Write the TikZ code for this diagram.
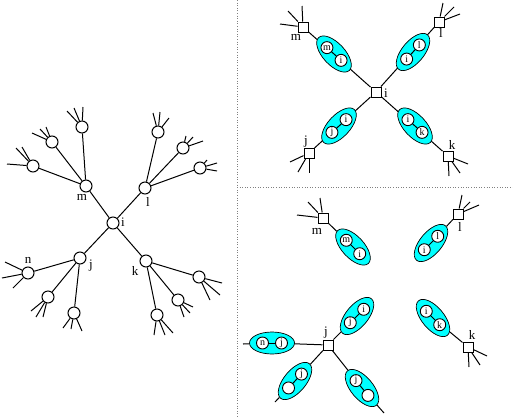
\documentclass[tikz,border=0pt]{standalone}
\usepackage{fontspec}
\setmainfont{Liberation Serif}
\usetikzlibrary{shapes.geometric,calc}
\definecolor{aqua}{RGB}{0,255,255}
\tikzset{
 vtx/.style={circle,draw,line width=1pt,fill=white,minimum size=12pt,inner sep=0pt},
 sq/.style={rectangle,draw,line width=1pt,fill=white,minimum size=10pt,inner sep=0pt},
 ell/.style={ellipse,draw,line width=0.7pt,fill=aqua,minimum width=45pt,minimum height=22pt,inner sep=0pt},
 sm/.style={circle,draw,line width=0.9pt,fill=white,minimum size=12pt,inner sep=0pt,font=\fontsize{10}{10}\selectfont},
 lab/.style={font=\fontsize{13}{13}\selectfont,inner sep=0pt},
 edge/.style={line width=1pt},
 sep/.style={dotted,gray,line width=0.6pt}
}
\newcommand\pairel[6]{%
 \node[ell,rotate=#3] (#1) at (#2) {};
 \node[sm] (#1a) at ($(#1)+(#4:9.5pt)$) {#5};
 \node[sm] (#1b) at ($(#1)-(#4:9.5pt)$) {#6};
 \draw[edge] (#1a) -- (#1b);
}
\newcommand\fan[2]{\foreach \p in {#2} \draw[edge] (#1) -- \p;}
\begin{document}
\begin{tikzpicture}[x=1pt,y=-1pt]
\useasboundingbox (0,0) rectangle (513,418);
% separators
\draw[sep] (237,0) -- (237,418);
\draw[sep] (237,187) -- (513,187);

% ---------- left tree ----------
\node[vtx] (i) at (113,223) {};
\node[vtx] (m) at (86,186) {};
\node[vtx] (l) at (145,188) {};
\node[vtx] (j) at (80,258) {};
\node[vtx] (k) at (146,261) {};
\node[vtx] (mA) at (82,127) {};
\node[vtx] (mB) at (52,142) {};
\node[vtx] (mC) at (33,166) {};
\node[vtx] (lD) at (158,132) {};
\node[vtx] (lE) at (183,148) {};
\node[vtx] (lF) at (200,168) {};
\node[vtx] (n) at (28,273) {};
\node[vtx] (jG) at (48,297) {};
\node[vtx] (jH) at (74,313) {};
\node[vtx] (kI) at (199,277) {};
\node[vtx] (kJ) at (178,300) {};
\node[vtx] (kK) at (157,315) {};
\foreach \a/\b in {i/m,i/l,i/j,i/k,m/mA,m/mB,m/mC,l/lD,l/lE,l/lF,j/n,j/jG,j/jH,k/kI,k/kJ,k/kK}
  \draw[edge] (\a) -- (\b);
\fan{mA}{(67,111),(74,108),(83,107)}
\fan{mB}{(32,133),(40,129),(46,127)}
\fan{mC}{(7,164),(16,148),(22,147)}
\fan{lD}{(153,113),(160,112),(169,118)}
\fan{lE}{(186,136),(193,137),(203,141)}
\fan{lF}{(207,160),(217,163),(217,171)}
\fan{n}{(5,262),(2,278),(13,288)}
\fan{jG}{(31,311),(36,317),(43,317)}
\fan{jH}{(63,328),(71,329),(82,331)}
\fan{kI}{(222,283),(220,295),(210,300)}
\fan{kJ}{(193,307),(190,313),(184,317)}
\fan{kK}{(173,333),(165,335),(154,335)}
\node[lab] (Li) at (123,222) {i};
\node[lab] (Lm) at (82,197) {m};
\node[lab] (Ll) at (148,202) {l};
\node[lab] (Lj) at (91,266) {j};
\node[lab] (Lk) at (135,271) {k};
\node[lab] (Ln) at (28,260) {n};

% ---------- top right ----------
\node[sq] (ti) at (376,92) {};
\node[sq] (tm) at (303,27) {};
\node[sq] (tl) at (439,22) {};
\node[sq] (tj) at (309,153) {};
\node[sq] (tk) at (448,156) {};
\foreach \b in {tm,tl,tj,tk} \draw[edge] (ti) -- (\b);
\fan{tm}{(280,24),(288,11),(302,6)}
\fan{tl}{(443,3),(454,7),(460,14)}
\fan{tj}{(290,162),(298,172),(309,173)}
\fan{tk}{(468,164),(460,173),(449,176)}
\pairel{e1}{334,54}{133}{138}{m}{i}
\pairel{e2}{413,52}{50}{48}{l}{i}
\pairel{e3}{339,126}{47}{42}{i}{j}
\pairel{e4}{415,126}{133}{138}{i}{k}
\node[lab] (Ti) at (386,93) {i};
\node[lab] (Tm) at (296,37) {m};
\node[lab] (Tl) at (441,33) {l};
\node[lab] (Tj) at (306,142) {j};
\node[lab] (Tk) at (452,145) {k};

% ---------- bottom right ----------
\node[sq] (bm) at (323,218) {};
\node[sq] (bl) at (458,214) {};
\node[sq] (bk) at (468,347) {};
\node[sq] (bj) at (328,345) {};
\fan{bm}{(297,215),(308,202),(320,198)}
\fan{bl}{(462,195),(470,202),(479,205)}
\fan{bk}{(487,356),(480,365),(469,367)}
\pairel{e5}{353,247}{133}{135}{m}{i}
\pairel{e6}{431,243}{50}{45}{l}{i}
\pairel{e7}{433,318}{130}{135}{i}{k}
\pairel{e8}{357,316}{50}{45}{i}{j}
\pairel{e9}{272,343}{0}{180}{n}{j}
\pairel{e10}{295,381}{50}{47}{j}{}
\pairel{e11}{362,388}{130}{129}{j}{}
\coordinate (f9) at (243,344);
\coordinate (f10) at (275,402);
\coordinate (f11) at (384,413);
\draw[edge] (bm) -- (e5);
\draw[edge] (bl) -- (e6);
\draw[edge] (e7) -- (bk);
\draw[edge] (bj) -- (e8);
\draw[edge] (bj) -- (e9);
\draw[edge] (e9) -- (f9);
\draw[edge] (bj) -- (e10);
\draw[edge] (e10) -- (f10);
\draw[edge] (bj) -- (e11);
\draw[edge] (e11) -- (f11);
\node[lab] (Bm) at (317,231) {m};
\node[lab] (Bl) at (460,227) {l};
\node[lab] (Bk) at (472,335) {k};
\node[lab] (Bj) at (326,333) {j};
\end{tikzpicture}
\end{document}
